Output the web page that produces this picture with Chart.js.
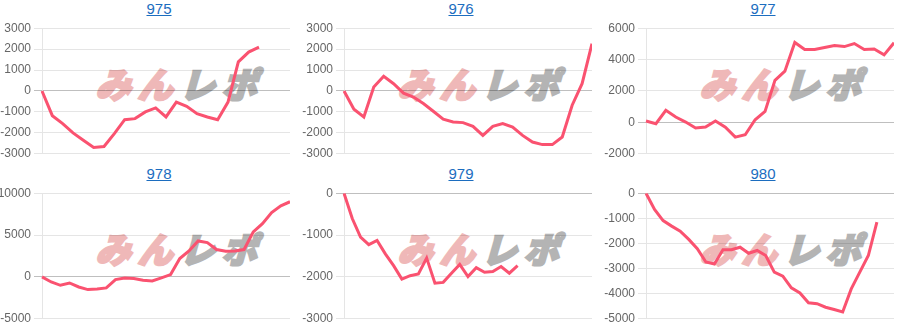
<!DOCTYPE html>
<html>
<head>
<meta charset="utf-8">
<script src="https://cdn.jsdelivr.net/npm/chart.js@4.4.1/dist/chart.umd.min.js"></script>
<style>
  body { margin: 0; background: #fff; width: 900px; height: 326px; overflow: hidden; position: relative; }
  .panel { position: absolute; width: 300px; height: 163px; }
  .title { position: absolute; left: 0; top: 0; width: 318px; text-align: center;
           font: 15px "Liberation Sans", Arial, sans-serif; }
  .title a { color: #1c6dbf; text-decoration: underline; }
  .mark { position: absolute; left: 100px; top: 57px; white-space: nowrap;
          font: 900 35px "Noto Sans CJK JP", sans-serif; letter-spacing: 7px;
          transform: skewX(-16deg); }
  .mark .a { color: #efb8b8; -webkit-text-stroke: 2.5px #efb8b8; }
  .mark .b { color: #b4b4b4; -webkit-text-stroke: 2.5px #b4b4b4; }
  canvas { position: absolute; left: 0; top: 18px; }
</style>
</head>
<body>
<script>
// machine numbers
const machines = ['975', '976', '977', '978', '979', '980'];

// hidden x categories (one per game block)
const labels975 = [1, 2, 3, 4, 5, 6, 7, 8, 9, 10, 11, 12, 13, 14, 15, 16, 17, 18, 19, 20, 21, 22, 23, 24, 25];
const labels976 = [1, 2, 3, 4, 5, 6, 7, 8, 9, 10, 11, 12, 13, 14, 15, 16, 17, 18, 19, 20, 21, 22, 23, 24, 25, 26];
const labels977 = [1, 2, 3, 4, 5, 6, 7, 8, 9, 10, 11, 12, 13, 14, 15, 16, 17, 18, 19, 20, 21, 22, 23, 24, 25, 26];
const labels978 = [1, 2, 3, 4, 5, 6, 7, 8, 9, 10, 11, 12, 13, 14, 15, 16, 17, 18, 19, 20, 21, 22, 23, 24, 25, 26, 27, 28];
const labels979 = [1, 2, 3, 4, 5, 6, 7, 8, 9, 10, 11, 12, 13, 14, 15, 16, 17, 18, 19, 20, 21, 22, 23, 24, 25, 26, 27, 28, 29, 30, 31];
const labels980 = [1, 2, 3, 4, 5, 6, 7, 8, 9, 10, 11, 12, 13, 14, 15, 16, 17, 18, 19, 20, 21, 22, 23, 24, 25, 26, 27, 28, 29, 30];

// 差枚 per machine
const data975 = [0, -1180, -1560, -2000, -2350, -2700, -2650, -2040, -1370, -1320, -1000, -810, -1240, -530, -730, -1080, -1240, -1370, -530, 1390, 1860, 2100];
const data976 = [0, -870, -1240, 190, 700, 350, -100, -290, -600, -970, -1350, -1480, -1510, -1690, -2120, -1690, -1560, -1720, -2120, -2440, -2560, -2560, -2200, -680, 350, 2260];
const data977 = [85, -85, 770, 340, 20, -360, -300, 85, -300, -940, -790, 170, 700, 2680, 3260, 5090, 4640, 4640, 4770, 4900, 4830, 5020, 4640, 4680, 4300, 5070];
const data978 = [0, -600, -1000, -720, -1200, -1510, -1430, -1310, -320, -120, -200, -400, -480, -120, 280, 2190, 3110, 4300, 4100, 3270, 3070, 3110, 3270, 5380, 6370, 7690, 8500, 8980];
const data979 = [0, -605, -1050, -1230, -1130, -1450, -1730, -2050, -1970, -1930, -1550, -2150, -2130, -1910, -1700, -1990, -1780, -1890, -1870, -1750, -1910, -1730];
const data980 = [0, -650, -1090, -1310, -1510, -1840, -2210, -2740, -2820, -2250, -2250, -2150, -2390, -2280, -2480, -3140, -3300, -3770, -3970, -4360, -4400, -4540, -4630, -4730, -3810, -3140, -2480, -1150];

// y axis ticks
const yMin = [-3000, -3000, -2000, -5000, -3000, -5000];
const yMax = [3000, 3000, 6000, 10000, 0, 0];
const yStep = [1000, 1000, 2000, 5000, 1000, 1000];

const allLabels = [labels975, labels976, labels977, labels978, labels979, labels980];
const allData = [data975, data976, data977, data978, data979, data980];

const colLeft = [0, 302, 604];
const rowTop = [0, 165];

machines.forEach((name, i) => {
    const panel = document.createElement('div');
    panel.className = 'panel';
    panel.style.left = colLeft[i % 3] + 'px';
    panel.style.top = rowTop[Math.floor(i / 3)] + 'px';
    panel.innerHTML =
        '<div class="title"><a href="#">' + name + '</a></div>' +
        '<div class="mark"><span class="a">みん</span><span class="b">レポ</span></div>' +
        '<canvas width="290" height="146"></canvas>';
    document.body.appendChild(panel);

    const ctx = panel.querySelector('canvas').getContext('2d');
    new Chart(ctx, {
        type: 'line',
        data: {
            labels: allLabels[i],
            datasets: [{
                data: allData[i],
                borderColor: 'rgb(250, 82, 112)',
                borderWidth: 3,
                pointRadius: 0,
                tension: 0,
                fill: false
            }]
        },
        options: {
            responsive: false,
            animation: false,
            layout: { padding: 0 },
            plugins: {
                legend: { display: false },
                tooltip: { enabled: false }
            },
            scales: {
                x: { display: false },
                y: {
                    min: yMin[i],
                    max: yMax[i],
                    afterFit: (scale) => { scale.width = 42; },
                    ticks: {
                        stepSize: yStep[i],
                        color: '#666',
                        font: { size: 12, family: "'Liberation Sans', Arial, sans-serif" },
                        callback: (v) => String(v)
                    },
                    grid: {
                        color: (c) => c.tick && c.tick.value === 0 ? 'rgba(0,0,0,0.25)' : 'rgba(0,0,0,0.1)'
                    }
                }
            }
        }
    });
});
</script>
</body>
</html>
